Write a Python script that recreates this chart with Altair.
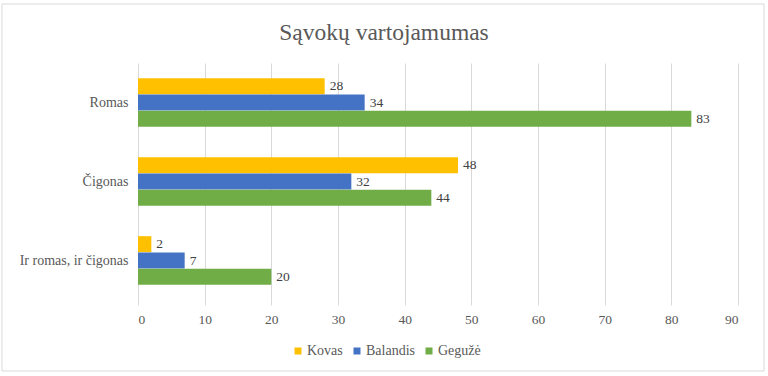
import altair as alt
import pandas as pd

categories = ["Romas", "Čigonas", "Ir romas, ir čigonas"]
series = ["Kovas", "Balandis", "Gegužė"]
kovas = [28, 48, 2]
balandis = [34, 32, 7]
geguze = [83, 44, 20]
colors = ["#FFC000", "#4472C4", "#70AD47"]
x_ticks = [0, 10, 20, 30, 40, 50, 60, 70, 80, 90]
title_text = "Sąvokų vartojamumas"

rows = []
for s, vals in zip(series, [kovas, balandis, geguze]):
    for c, v in zip(categories, vals):
        rows.append({"cat": c, "series": s, "value": v})
df = pd.DataFrame(rows)

FONT = "Liberation Serif"
GRAY = "#595959"

y_enc = alt.Y("cat:N", sort=categories, title=None,
              scale=alt.Scale(paddingInner=0.38, paddingOuter=0.19),
              axis=alt.Axis(labelFont=FONT, labelFontSize=14, labelColor=GRAY,
                            ticks=False, domain=False, labelPadding=10))
yoff = alt.YOffset("series:N", sort=series, scale=alt.Scale(paddingInner=0, paddingOuter=0))
x_enc = alt.X("value:Q", title=None,
              scale=alt.Scale(domain=[0, 90], nice=False),
              axis=alt.Axis(values=x_ticks, labelFont=FONT, labelFontSize=13.5,
                            labelColor=GRAY, domain=False, tickColor="#d9d9d9",
                            tickSize=5, labelPadding=7, gridColor="#d9d9d9"))

bars = alt.Chart(df).mark_bar(size=16).encode(
    y=y_enc, yOffset=yoff, x=x_enc,
    color=alt.Color("series:N", sort=series,
                    scale=alt.Scale(domain=series, range=colors),
                    legend=alt.Legend(title=None, orient="none", direction="horizontal",
                                      legendX=153, legendY=281,
                                      symbolType="square", symbolSize=49,
                                      symbolStrokeWidth=0,
                                      labelFont=FONT, labelFontSize=14,
                                      labelColor=GRAY, columnPadding=7,
                                      labelOffset=2)),
)

labels = alt.Chart(df).mark_text(align="left", baseline="middle", dx=5,
                                 font=FONT, fontSize=13.5, color="#404040").encode(
    y=alt.Y("cat:N", sort=categories), yOffset=yoff, x="value:Q", text="value:Q"
)

border = alt.Chart(pd.DataFrame({"a": [0]})).mark_rect(
    fill=None, stroke="#d9d9d9", strokeWidth=1, clip=False
).encode(x=alt.value(-136), x2=alt.value(626), y=alt.value(-59), y2=alt.value(308))

title = alt.Chart(pd.DataFrame({"t": [title_text]})).mark_text(
    font=FONT, fontSize=23.5, color=GRAY, align="center", baseline="alphabetic"
).encode(x=alt.value(246), y=alt.value(-23), text="t:N")

chart = alt.layer(border, bars, labels, title).properties(
    width=600, height=237,
    padding={"left": 138, "top": 63, "right": 30, "bottom": 76},
    autosize=alt.AutoSizeParams(type="none"),
).configure_view(stroke=None).configure_text(font=FONT).configure_axis(
    labelFont=FONT).configure_legend(labelFont=FONT)

chart.save("out.html", embed_options={"renderer": "svg", "actions": False})
